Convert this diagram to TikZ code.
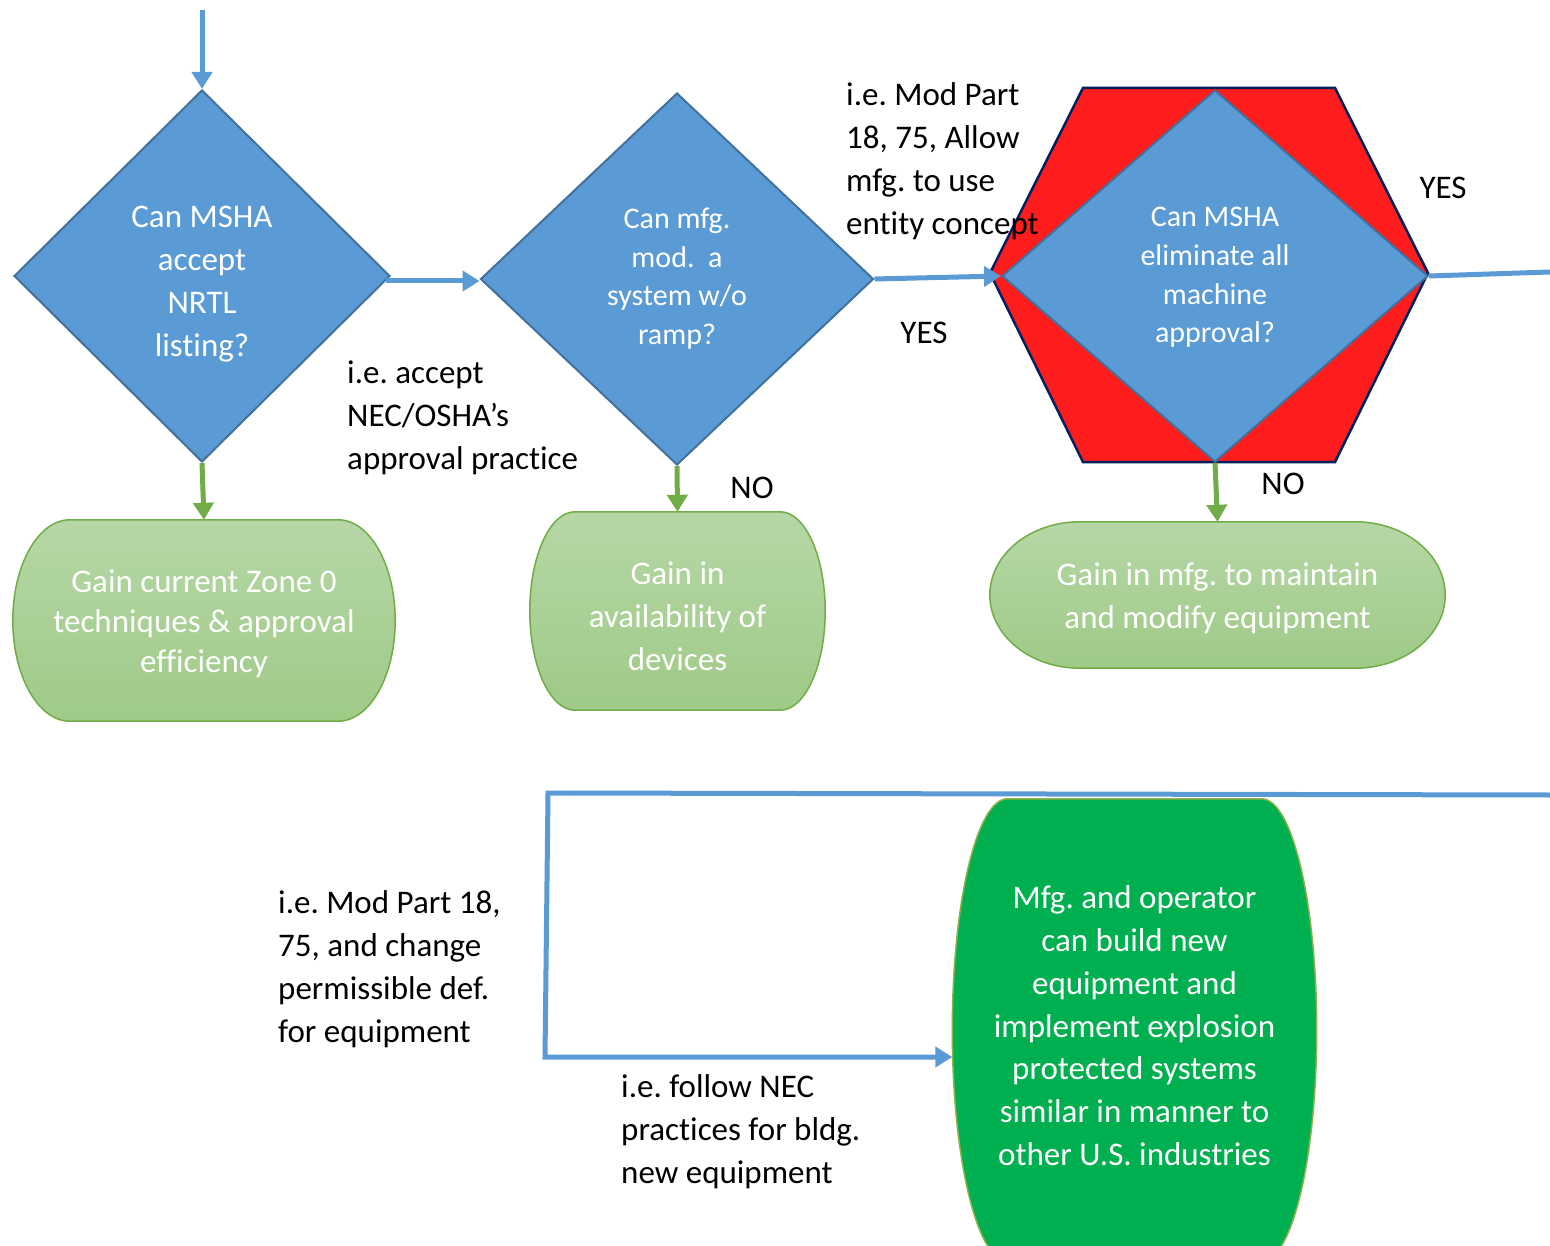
\documentclass[tikz,border=0pt]{standalone}
\usepackage{fontspec}
\setmainfont{Carlito}[Ligatures=NoCommon]
\frenchspacing
\usetikzlibrary{shapes.geometric,arrows.meta,calc,backgrounds}
\definecolor{dblue}{HTML}{5B9BD5}
\definecolor{dborder}{HTML}{41719C}
\definecolor{hexred}{HTML}{FF1C1C}
\definecolor{navyline}{HTML}{002060}
\definecolor{lgtop}{HTML}{B6D7A6}
\definecolor{lgbot}{HTML}{9FCA87}
\definecolor{gborder}{HTML}{70AD47}
\definecolor{dgreen}{HTML}{00B050}
\definecolor{dgborder}{HTML}{8FB04A}
% capsule outline drawn from a node's corners: #1 node, #2 corner x radius, #3 style
\newcommand\capsule[3]{\path[#3] let \p1=(#1.north west), \p2=(#1.south east) in
  (\x1+#2,\y1) -- (\x2-#2,\y1)
  arc[start angle=90,end angle=-90,x radius=#2,y radius={(\y1-(\y2))/2}]
  -- (\x1+#2,\y2)
  arc[start angle=270,end angle=90,x radius=#2,y radius={(\y1-(\y2))/2}] -- cycle;}
\tikzset{
  bigtxt/.style={font=\fontsize{33}{43}\selectfont},
  midtxt/.style={font=\fontsize{30}{38.7}\selectfont},
  strutted/.style={execute at begin node=\strut, execute at end node=\strut},
  intext/.style={inner sep=0pt, text=white, align=center, strutted},
  decision/.style={diamond, fill=dblue, draw=dborder, line width=2pt, inner sep=0pt},
  outcome/.style={rectangle, inner sep=0pt},
  note/.style={anchor=north west, align=left, inner sep=0pt, bigtxt, execute at begin node=\strut},
  tag/.style={inner sep=0pt, bigtxt},
  flowblue/.style={draw=dblue, line width=5pt, -{Triangle[width=20pt,length=17pt]}},
  flowgreen/.style={draw=gborder, line width=5pt, -{Triangle[width=20pt,length=17pt]}},
  plainblue/.style={draw=dblue, line width=5pt},
  lightbox/.style={top color=lgtop, bottom color=lgbot, draw=gborder, line width=1.5pt},
  darkbox/.style={fill=dgreen, draw=dgborder, line width=1.5pt}
}
\begin{document}
\begin{tikzpicture}[x=1pt,y=-1pt]
\useasboundingbox (0,0) rectangle (1550,1246);
\begin{scope}[on background layer]
  \fill[white] (0,0) rectangle (1550,1246);
\end{scope}

% hexagon behind the third decision
\draw[fill=hexred, draw=navyline, line width=2.5pt]
  (1083,88) -- (1335,88) -- (1428,273) -- (1335,462) -- (1083,462) -- (990,273) -- cycle;

% decisions
\node[decision, minimum width=376pt, minimum height=372pt,
  label={[intext, bigtxt, yshift=-12pt]center:{Can MSHA\\accept\\NRTL\\listing?}}] (d1) at (202,276) {};
\node[decision, minimum width=393pt, minimum height=372pt,
  label={[intext, midtxt, yshift=-3pt]center:{Can mfg.\\mod.~ a\\system w/o\\ramp?}}] (d2) at (677,279) {};
\node[decision, minimum width=426pt, minimum height=372pt,
  label={[intext, midtxt, yshift=-5pt]center:{Can MSHA\\eliminate all\\machine\\approval?}}] (d3) at (1215,276) {};

% outcomes
\node[outcome, minimum width=382pt, minimum height=201pt,
  label={[intext, font=\fontsize{33}{40}\selectfont, yshift=-7pt]center:{Gain current Zone 0\\techniques \& approval\\efficiency}}] (b1) at (204,620.5) {};
\node[outcome, minimum width=295pt, minimum height=198pt,
  label={[intext, bigtxt, yshift=-12pt]center:{Gain in\\availability of\\devices}}] (b2) at (677.5,611) {};
\node[outcome, minimum width=455pt, minimum height=146pt,
  label={[intext, bigtxt, yshift=-7pt]center:{Gain in mfg. to maintain\\and modify equipment}}] (b3) at (1217.5,595) {};
\node[outcome, minimum width=364pt, minimum height=462pt,
  label={[intext, font=\fontsize{33}{42.8}\selectfont, yshift=-2pt]center:{Mfg. and operator\\can build new\\equipment and\\implement explosion\\protected systems\\similar in manner to\\other U.S. industries}}] (b4) at (1134.5,1030) {};

\begin{scope}[on background layer]
  \clip (0,0) rectangle (1550,1246);
  \capsule{b1}{57pt}{lightbox}
  \capsule{b2}{45pt}{lightbox}
  \capsule{b3}{90pt}{lightbox}
  \capsule{b4}{55pt}{darkbox}
\end{scope}

% notes
\node[note] (n1) at (347,361) {i.e. accept\\NEC/OSHA’s\\approval practice};
\node[note] (n2) at (846,82.5) {i.e. Mod Part\\18, 75, Allow\\mfg. to use\\entity concept};
\node[note] (n3) at (278,890) {i.e. Mod Part 18,\\75, and change\\permissible def.\\for equipment};
\node[note] (n4) at (621,1074) {i.e. follow NEC\\practices for bldg.\\new equipment};
\node[tag] (y1) at (924,333) {YES};
\node[tag] (y2) at (1443,188) {YES};
\node[tag] (no1) at (752,488) {NO};
\node[tag] (no2) at (1283,484) {NO};

% connectors
\coordinate (cT) at (202,10);
\coordinate (cE) at (1550,272);
\coordinate (cR) at (1550,795);
\coordinate (cA) at (548,793);
\coordinate (cB) at (545,1057);
\draw[flowblue] (cT) -- (d1.north);
\draw[flowblue] ([shift={(-5pt,-5pt)}]d1.east) -- ([yshift=-5pt]d1.east -| d2.west);
\draw[flowblue] (d2.east) -- (d3.west);
\draw[plainblue] (d3.east) -- (cE);
\draw[flowgreen] (d1.south) -- (b1.north);
\draw[flowgreen] (d2.south) -- (b2.north);
\draw[flowgreen] (d3.south) -- (b3.north);
\draw[flowblue] (cR) -- (cA) -- (cB) -- (cB -| b4.west);
\end{tikzpicture}
\end{document}
